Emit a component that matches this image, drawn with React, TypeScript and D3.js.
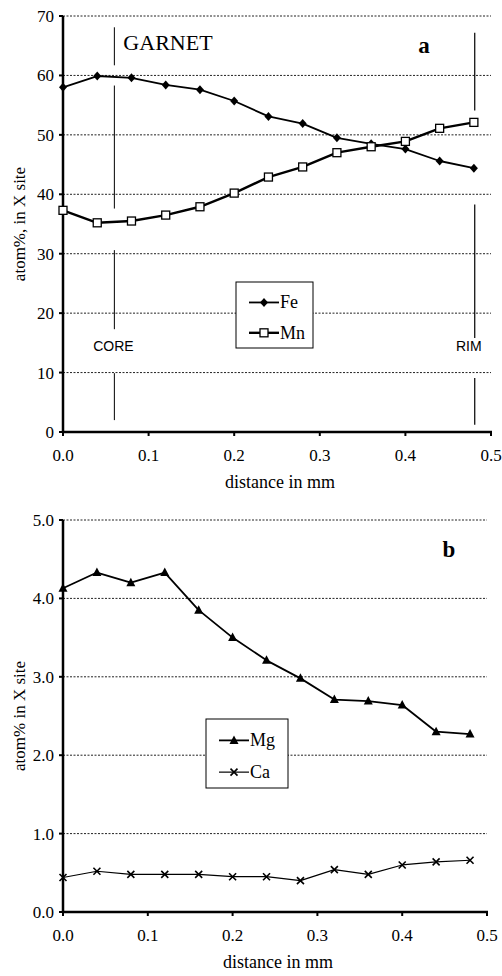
import { useEffect, useRef } from 'react';
import * as d3 from 'd3';

// distance along the traverse (mm)
const distance = [0, 0.04, 0.08, 0.12, 0.16, 0.2, 0.24, 0.28, 0.32, 0.36, 0.4, 0.44, 0.48];

// panel a: Fe and Mn (atom%, in X site)
const fe = [58.0, 59.9, 59.6, 58.4, 57.6, 55.7, 53.1, 51.9, 49.5, 48.5, 47.6, 45.6, 44.4];
const mn = [37.3, 35.2, 35.5, 36.5, 37.9, 40.2, 42.9, 44.6, 47.0, 48.0, 48.9, 51.1, 52.1];

// panel b: Mg and Ca
const mg = [4.13, 4.33, 4.2, 4.33, 3.85, 3.5, 3.21, 2.98, 2.71, 2.69, 2.64, 2.3, 2.27];
const ca = [0.44, 0.52, 0.48, 0.48, 0.48, 0.45, 0.45, 0.4, 0.54, 0.48, 0.6, 0.64, 0.66];

const xTicks = [0, 0.1, 0.2, 0.3, 0.4, 0.5];
const yTicksA = [0, 10, 20, 30, 40, 50, 60, 70];
const yTicksB = [0, 1, 2, 3, 4, 5];

// core / rim marker segments (data units, panel a)
const coreX = 0.06;
const coreSegments = [[68.1, 61.7], [58.3, 37.6], [30.6, 17.3], [9.9, 2.0]];
const rimX = 0.481;
const rimSegments = [[67.2, 54.1], [38.3, 15.8], [9.1, 1.2]];

const SERIF = '"Liberation Serif", "DejaVu Serif", serif';
const SANS = '"Liberation Sans", Arial, sans-serif';

type Marker = 'diamond' | 'square' | 'triangle' | 'cross';

function drawMarker(g: d3.Selection<SVGGElement, unknown, null, undefined>, kind: Marker, cx: number, cy: number) {
  if (kind === 'diamond') {
    g.append('path').attr('d', `M${cx},${cy - 4.5}L${cx + 4},${cy}L${cx},${cy + 4.5}L${cx - 4},${cy}Z`).attr('fill', '#000');
  } else if (kind === 'square') {
    g.append('rect').attr('x', cx - 4).attr('y', cy - 4).attr('width', 8).attr('height', 8)
      .attr('fill', '#fff').attr('stroke', '#000').attr('stroke-width', 1.3);
  } else if (kind === 'triangle') {
    g.append('path').attr('d', `M${cx},${cy - 5}L${cx + 4.5},${cy + 3.5}L${cx - 4.5},${cy + 3.5}Z`).attr('fill', '#000');
  } else {
    g.append('path').attr('d', `M${cx - 3.5},${cy - 3.5}L${cx + 3.5},${cy + 3.5}M${cx + 3.5},${cy - 3.5}L${cx - 3.5},${cy + 3.5}`)
      .attr('stroke', '#000').attr('stroke-width', 1.6).attr('fill', 'none');
  }
}

interface PanelSpec {
  top: number;
  bottom: number;
  right: number;
  yMax: number;
  yTicks: number[];
  yFormat: (v: number) => string;
  yTitle: string;
  series: { name: string; values: number[]; marker: Marker; width: number }[];
  legend: { x: number; y: number; w: number; h: number };
  letter: { text: string; x: number; y: number };
}

export default function App() {
  const ref = useRef<SVGSVGElement | null>(null);

  useEffect(() => {
    if (!ref.current) return;
    const svg = d3.select(ref.current);
    svg.selectAll('*').remove();

    const left = 63;

    const drawPanel = (p: PanelSpec) => {
      const x = d3.scaleLinear().domain([0, 0.5]).range([left, p.right]);
      const y = d3.scaleLinear().domain([0, p.yMax]).range([p.bottom, p.top]);
      const g = svg.append('g');

      // dotted gridlines
      p.yTicks.filter(t => t > 0).forEach(t => {
        g.append('line').attr('x1', left).attr('x2', p.right).attr('y1', y(t)).attr('y2', y(t))
          .attr('stroke', '#222').attr('stroke-width', 1).attr('stroke-dasharray', '2,1.5');
      });

      // axes
      g.append('line').attr('x1', left).attr('x2', left).attr('y1', p.top).attr('y2', p.bottom)
        .attr('stroke', '#000').attr('stroke-width', 2.5);
      g.append('line').attr('x1', left - 1).attr('x2', p.right + 1).attr('y1', p.bottom).attr('y2', p.bottom)
        .attr('stroke', '#000').attr('stroke-width', 2.5);

      xTicks.forEach(t => {
        g.append('line').attr('x1', x(t)).attr('x2', x(t)).attr('y1', p.bottom).attr('y2', p.bottom + 4)
          .attr('stroke', '#000').attr('stroke-width', 2);
        g.append('text').attr('x', x(t)).attr('y', p.bottom + 29).attr('text-anchor', 'middle')
          .style('font-family', SERIF).style('font-size', '17px').text(d3.format('.1f')(t));
      });
      p.yTicks.forEach(t => {
        g.append('line').attr('x1', left - 4).attr('x2', left).attr('y1', y(t)).attr('y2', y(t))
          .attr('stroke', '#000').attr('stroke-width', 2);
        g.append('text').attr('x', left - 9).attr('y', y(t) + 6).attr('text-anchor', 'end')
          .style('font-family', SERIF).style('font-size', '17px').text(p.yFormat(t));
      });

      g.append('text').attr('x', (left + p.right) / 2 + 3).attr('y', p.bottom + 56).attr('text-anchor', 'middle')
        .style('font-family', SERIF).style('font-size', '18px').text('distance in mm');
      g.append('text')
        .attr('transform', `translate(25,${(p.top + p.bottom) / 2}) rotate(-90)`)
        .attr('text-anchor', 'middle')
        .style('font-family', SERIF).style('font-size', '17px').text(p.yTitle);

      // series
      p.series.forEach(s => {
        const pts = distance.map((d, i) => [x(d), y(s.values[i])] as [number, number]);
        g.append('path').attr('d', d3.line()(pts)).attr('fill', 'none')
          .attr('stroke', '#000').attr('stroke-width', s.width).attr('stroke-linejoin', 'round');
        pts.forEach(([cx, cy]) => drawMarker(g, s.marker, cx, cy));
      });

      // legend
      const lg = g.append('g');
      lg.append('rect').attr('x', p.legend.x).attr('y', p.legend.y).attr('width', p.legend.w).attr('height', p.legend.h)
        .attr('fill', '#fff').attr('stroke', '#000').attr('stroke-width', 1);
      p.series.forEach((s, i) => {
        const ly = p.legend.y + p.legend.h * (0.31 + 0.46 * i);
        const lx = p.legend.x + 13;
        lg.append('line').attr('x1', lx).attr('x2', lx + 30).attr('y1', ly).attr('y2', ly)
          .attr('stroke', '#000').attr('stroke-width', s.width);
        drawMarker(lg, s.marker, lx + 15, ly);
        lg.append('text').attr('x', lx + 31).attr('y', ly + 6)
          .style('font-family', SERIF).style('font-size', '18px').text(s.name);
      });

      g.append('text').attr('x', p.letter.x).attr('y', p.letter.y).attr('text-anchor', 'middle')
        .style('font-family', SERIF).style('font-size', '23px').style('font-weight', 'bold').text(p.letter.text);

      return { g, x, y };
    };

    const a = drawPanel({
      top: 16, bottom: 432, right: 491, yMax: 70, yTicks: yTicksA,
      yFormat: v => String(v), yTitle: 'atom%, in X site',
      series: [
        { name: 'Fe', values: fe, marker: 'diamond', width: 1.8 },
        { name: 'Mn', values: mn, marker: 'square', width: 2.4 },
      ],
      legend: { x: 236, y: 282, w: 77, h: 66 },
      letter: { text: 'a', x: 424, y: 53 },
    });

    // core / rim markers
    coreSegments.forEach(([y1, y2]) => {
      a.g.append('line').attr('x1', a.x(coreX)).attr('x2', a.x(coreX)).attr('y1', a.y(y1)).attr('y2', a.y(y2))
        .attr('stroke', '#000').attr('stroke-width', 1);
    });
    rimSegments.forEach(([y1, y2]) => {
      a.g.append('line').attr('x1', a.x(rimX)).attr('x2', a.x(rimX)).attr('y1', a.y(y1)).attr('y2', a.y(y2))
        .attr('stroke', '#000').attr('stroke-width', 1.2);
    });
    a.g.append('text').attr('x', a.x(coreX) + 9).attr('y', 50)
      .style('font-family', SERIF).style('font-size', '22px').text('GARNET');
    a.g.append('text').attr('x', a.x(coreX) - 1).attr('y', 351).attr('text-anchor', 'middle')
      .style('font-family', SANS).style('font-size', '14px').text('CORE');
    a.g.append('text').attr('x', a.x(0.474)).attr('y', 351).attr('text-anchor', 'middle')
      .style('font-family', SANS).style('font-size', '14px').text('RIM');

    drawPanel({
      top: 520, bottom: 912, right: 487, yMax: 5, yTicks: yTicksB,
      yFormat: v => d3.format('.1f')(v), yTitle: 'atom% in X site',
      series: [
        { name: 'Mg', values: mg, marker: 'triangle', width: 1.8 },
        { name: 'Ca', values: ca, marker: 'cross', width: 1.2 },
      ],
      legend: { x: 206, y: 719, w: 82, h: 69 },
      letter: { text: 'b', x: 449, y: 557 },
    });
  }, []);

  return (
    <svg ref={ref} width={502} height={976}
      style={{ position: 'absolute', left: 0, top: 0, background: '#fff' }} />
  );
}
